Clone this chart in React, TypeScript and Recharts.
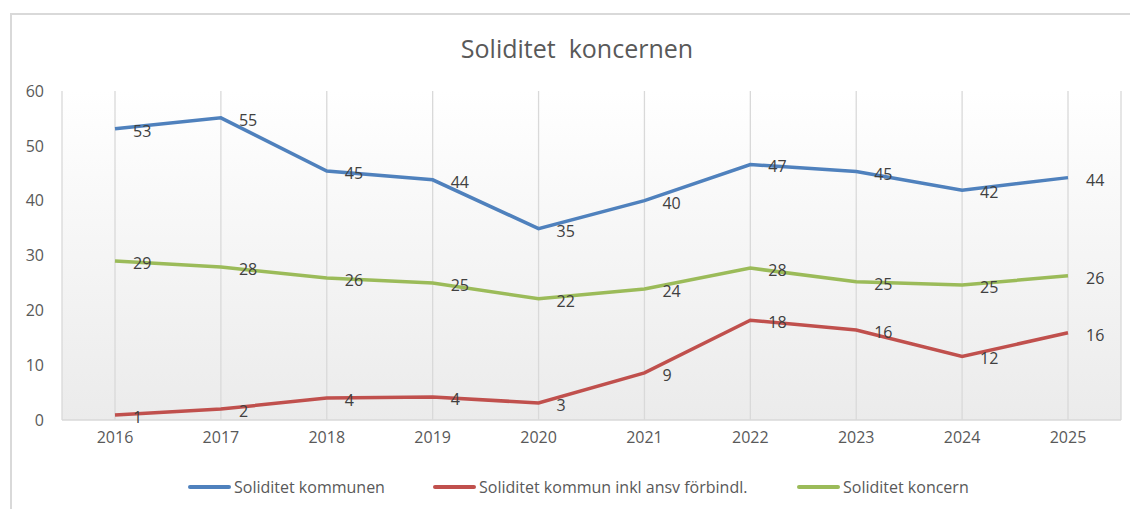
import React from "react";
import { LineChart, Line, XAxis, YAxis, CartesianGrid, LabelList } from "recharts";

const years = ["2016", "2017", "2018", "2019", "2020", "2021", "2022", "2023", "2024", "2025"];
const kommunen = [53.1, 55.1, 45.4, 43.8, 34.9, 40.0, 46.6, 45.3, 41.9, 44.2];
const kommunInkl = [0.9, 2.0, 4.0, 4.2, 3.1, 8.6, 18.2, 16.4, 11.6, 15.9];
const koncern = [29.0, 27.9, 25.9, 25.0, 22.1, 23.9, 27.7, 25.2, 24.6, 26.3];
const yTicks = [0, 10, 20, 30, 40, 50, 60];

const seriesNames = ["Soliditet kommunen", "Soliditet kommun inkl ansv förbindl.", "Soliditet koncern"];
const colors = ["#4F81BD", "#C0504D", "#9BBB59"];

const data = years.map((y, i) => ({
  year: y,
  a: kommunen[i],
  b: kommunInkl[i],
  c: koncern[i],
}));

const FONT = "'Open Sans', sans-serif";

const renderLabel = (props: any) => {
  const { x, y, value } = props;
  return (
    <text
      x={x + 18}
      y={y + 2}
      fill="#404040"
      fontSize={16}
      fontFamily={FONT}
      textAnchor="start"
      dominantBaseline="central"
    >
      {Math.round(value)}
    </text>
  );
};

const legendPos = [188, 433, 797];

export default function App() {
  return (
    <div style={{ position: "absolute", left: 0, top: 0, width: 1130, height: 509, overflow: "hidden", background: "#fff" }}>
      <svg width={0} height={0} style={{ position: "absolute" }}>
        <defs>
          <linearGradient id="plotBg" x1="0" y1="0" x2="0" y2="1">
            <stop offset="0%" stopColor="#ffffff" />
            <stop offset="100%" stopColor="#ebebeb" />
          </linearGradient>
        </defs>
      </svg>
      <div
        style={{
          position: "absolute",
          left: 10,
          top: 13,
          width: 1200,
          height: 600,
          border: "2px solid #d9d9d9",
          boxSizing: "border-box",
        }}
      />
      <div
        style={{
          position: "absolute",
          left: 0,
          width: 1154,
          top: 31,
          textAlign: "center",
          fontFamily: FONT,
          fontSize: 25,
          color: "#595959",
          whiteSpace: "pre",
          lineHeight: "34px",
        }}
      >
        {"Soliditet  koncernen"}
      </div>
      <div style={{ position: "absolute", left: 0, top: 0 }}>
        <LineChart width={1130} height={509} data={data} margin={{ top: 91, right: 9, left: 10, bottom: 59 }}>
          <CartesianGrid horizontal={false} vertical={true} stroke="#d9d9d9" strokeWidth={1.3} fill="url(#plotBg)" fillOpacity={1} />
          <XAxis
            dataKey="year"
            padding={{ left: 53, right: 53 }}
            height={30}
            tickLine={false}
            tickSize={0}
            tickMargin={12}
            axisLine={{ stroke: "#d9d9d9", strokeWidth: 1.5 }}
            tick={{ fill: "#595959", fontSize: 16, fontFamily: FONT }}
            interval={0}
          />
          <YAxis
            domain={[0, 60]}
            ticks={yTicks}
            width={52}
            axisLine={false}
            tickLine={false}
            tickSize={0}
            tickMargin={18}
            tick={{ fill: "#595959", fontSize: 16, fontFamily: FONT }}
          />
          <Line dataKey="a" name={seriesNames[0]} stroke={colors[0]} strokeWidth={3.5} dot={false} isAnimationActive={false}>
            <LabelList dataKey="a" content={renderLabel} />
          </Line>
          <Line dataKey="b" name={seriesNames[1]} stroke={colors[1]} strokeWidth={3.5} dot={false} isAnimationActive={false}>
            <LabelList dataKey="b" content={renderLabel} />
          </Line>
          <Line dataKey="c" name={seriesNames[2]} stroke={colors[2]} strokeWidth={3.5} dot={false} isAnimationActive={false}>
            <LabelList dataKey="c" content={renderLabel} />
          </Line>
        </LineChart>
      </div>
      {seriesNames.map((n, i) => (
        <div
          key={n}
          style={{
            position: "absolute",
            left: legendPos[i],
            top: 476,
            height: 22,
            display: "flex",
            alignItems: "center",
            fontFamily: FONT,
            fontSize: 16,
            color: "#595959",
            whiteSpace: "nowrap",
          }}
        >
          <span style={{ display: "inline-block", width: 43, height: 4, background: colors[i], marginRight: 3, borderRadius: 2 }} />
          {n}
        </div>
      ))}
    </div>
  );
}
